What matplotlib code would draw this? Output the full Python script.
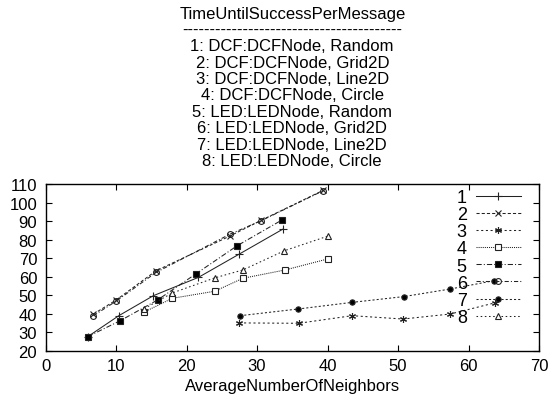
import matplotlib
matplotlib.use("Agg")
import matplotlib.pyplot as plt

plt.rcParams['font.family'] = ['Liberation Sans', 'DejaVu Sans']

title_lines = [
    "TimeUntilSuccessPerMessage",
    "----------------------------------------",
    "1: DCF:DCFNode, Random",
    "2: DCF:DCFNode, Grid2D",
    "3: DCF:DCFNode, Line2D",
    "4: DCF:DCFNode, Circle",
    "5: LED:LEDNode, Random",
    "6: LED:LEDNode, Grid2D",
    "7: LED:LEDNode, Line2D",
    "8: LED:LEDNode, Circle",
]
labels = ["1", "2", "3", "4", "5", "6", "7", "8"]

x1 = [6.0, 10.4, 15.3, 21.7, 27.5, 33.7]
y1 = [27.6, 38.9, 49.7, 59.6, 72.2, 85.7]
x2 = [6.8, 10.0, 15.7, 26.1, 30.6, 39.4]
y2 = [39.8, 47.3, 63.2, 81.8, 90.4, 106.6]
x3 = [27.5, 35.9, 43.5, 50.7, 57.4, 63.7]
y3 = [35.0, 34.8, 38.9, 37.1, 39.8, 45.8]
x4 = [14.0, 18.0, 24.0, 28.0, 34.0, 40.0]
y4 = [40.9, 48.3, 52.1, 59.1, 63.6, 69.5]
x5 = [6.0, 10.6, 15.9, 21.3, 27.2, 33.6]
y5 = [27.6, 36.2, 47.4, 61.4, 76.7, 90.7]
x6 = [6.8, 10.0, 15.7, 26.1, 30.6, 39.4]
y6 = [38.9, 46.7, 62.3, 82.8, 90.2, 106.4]
x7 = [27.6, 35.8, 43.5, 50.8, 57.4, 63.6]
y7 = [38.9, 42.5, 46.1, 49.2, 53.3, 57.8]
x8 = [14.0, 18.0, 24.0, 28.0, 33.9, 40.0]
y8 = [42.7, 51.2, 59.3, 63.6, 74.0, 81.8]

xticks = [0, 10, 20, 30, 40, 50, 60, 70]
yticks = [20, 30, 40, 50, 60, 70, 80, 90, 100, 110]

series = [
    (x1, y1, dict(linestyle='-', marker='+', ms=5.5, mew=0.8, mfc='none')),
    (x2, y2, dict(linestyle=(0, (3, 2)), marker='x', ms=4, mew=0.8)),
    (x3, y3, dict(linestyle=(0, (2, 2.5)), marker=(6, 2, 0), ms=5, mew=0.8)),
    (x4, y4, dict(linestyle=(0, (1, 1)), marker='s', ms=4, mew=0.8, mfc='white')),
    (x5, y5, dict(linestyle=(0, (5, 2, 1, 2)), marker='s', ms=4.6, mew=0.8, mfc='black')),
    (x6, y6, dict(linestyle=(0, (4, 2, 1, 2)), marker='o', ms=4.2, mew=0.8, mfc='none')),
    (x7, y7, dict(linestyle=(0, (2, 2)), marker='o', ms=3.8, mew=0.8, mfc='black')),
    (x8, y8, dict(linestyle=(0, (1.5, 2.5)), marker='^', ms=4, mew=0.8, mfc='white')),
]

W, H = 559, 406
fig = plt.figure(figsize=(W / 100, H / 100), dpi=100)
L, R, B, T = 45.5, 539, 351.7, 185
ax = fig.add_axes([L / W, 1 - B / H, (R - L) / W, (B - T) / H])

for (xs, ys, st), lab in zip(series, labels):
    ax.plot(xs, ys, color='#222222', lw=0.75, label=lab, **st)

ax.set_xlim(0, 70)
ax.set_ylim(20, 110)
ax.set_xticks(xticks)
ax.set_yticks(yticks)
ax.tick_params(direction='in', top=True, right=True, labelsize=12, length=4, width=0.8)
ax.tick_params(axis='x', pad=5)
ax.tick_params(axis='y', pad=6)
for s in ax.spines.values():
    s.set_linewidth(1.0)
ax.set_xlabel("AverageNumberOfNeighbors", fontsize=12, labelpad=4)

leg = ax.legend(loc='upper right', frameon=False, fontsize=13, markerfirst=False,
                handlelength=2.5, handletextpad=0.5, labelspacing=0.01,
                borderaxespad=0.0, borderpad=0.4, bbox_to_anchor=(0.978, 1.014))
for t in leg.get_texts():
    t.set_ha('right')

cx = (L + R) / 2 / W
for i, line in enumerate(title_lines):
    fig.text(cx, 1 - (14 + 16.4 * i) / H, line, ha='center', va='center', fontsize=12)

fig.savefig("out.png", dpi=100)
